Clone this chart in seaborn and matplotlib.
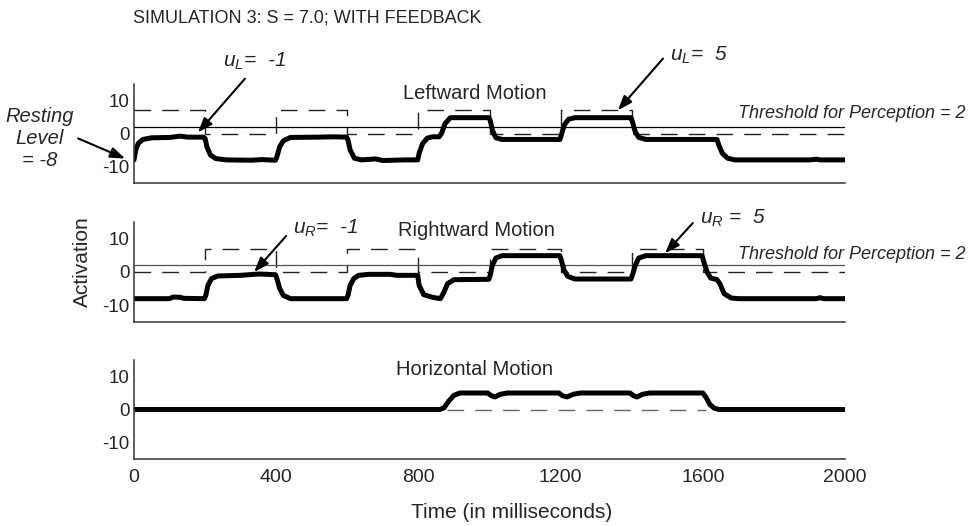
import numpy as np
import pandas as pd
import seaborn as sns
import matplotlib.pyplot as plt

# ==============================
# DATA
# ==============================
# leftward motion activation
left_t = [0, 5, 12, 25, 50, 100, 130, 150, 195, 200, 205, 215, 230, 260, 330, 360, 398,
          402, 410, 420, 440, 520, 560, 598, 602, 608, 620, 640, 680, 700, 760, 798,
          802, 812, 825, 840, 858, 865, 875, 890, 998, 1002, 1008, 1018, 1035, 1198,
          1202, 1210, 1222, 1240, 1398, 1402, 1410, 1420, 1440, 1640, 1645, 1655, 1670,
          1690, 1900, 1920, 1930, 2000]
left_v = [-8, -5, -3, -1.8, -1.3, -1.2, -0.8, -1.1, -1.1, -1.5, -4, -6.5, -7.6, -8, -8.1,
          -7.9, -8.1, -7, -4, -2.2, -1.2, -1.1, -1.0, -1.1, -2, -5, -7.5, -8, -7.7, -8.2,
          -8, -8, -6, -3, -1.4, -1.0, -1.0, 0, 3, 4.8, 4.8, 4, 1, -1.3, -1.8, -1.8,
          -0.5, 2.5, 4.3, 4.8, 4.8, 3.5, 0.5, -1.2, -1.8, -1.8, -3.5, -6, -7.5,
          -8, -8, -7.8, -8, -8]

# rightward motion activation
right_t = [0, 100, 110, 130, 140, 198, 202, 208, 218, 235, 300, 350, 398, 402, 410, 420,
           440, 598, 602, 608, 618, 632, 660, 720, 740, 798, 802, 815, 840, 862, 872,
           882, 900, 998, 1002, 1008, 1018, 1035, 1198, 1202, 1210, 1220, 1240, 1398,
           1402, 1410, 1420, 1440, 1598, 1603, 1612, 1622, 1640, 1648, 1660, 1680,
           1700, 1920, 1930, 1940, 2000]
right_v = [-8, -8, -7.5, -7.6, -7.9, -8, -7, -4, -2, -1.2, -1.0, -0.6, -0.8, -2, -5, -7,
           -8, -8, -7, -4, -2, -1.0, -0.7, -0.7, -1.0, -1.0, -4, -6.8, -7.6, -8, -6,
           -3.5, -2.3, -2.2, -1, 2, 4.2, 4.9, 4.9, 3.5, 0.5, -1.3, -2.1, -2.1,
           -1, 2, 4.2, 4.9, 4.9, 3, 0, -1.8, -2.3, -3.5, -6.5, -7.8, -8, -8, -7.7,
           -8, -8]

# horizontal motion activation
horiz_t = [0, 860, 872, 885, 900, 917, 995, 1005, 1015, 1030, 1050, 1195, 1205, 1218,
           1235, 1255, 1395, 1405, 1415, 1430, 1450, 1600, 1610, 1620, 1632, 1645, 2000]
horiz_v = [0, 0, 0.5, 2.5, 4.3, 5, 5, 4.2, 3.8, 4.6, 5, 5, 4.2, 3.8, 4.6, 5, 5, 4.2, 3.8,
           4.6, 5, 5, 3.5, 1.5, 0.4, 0, 0]

# input patterns (dashed)
input_t = [0, 200, 400, 600, 800, 1000, 1200, 1400, 1600, 2000]
input_left = [7, 0, 7, 0, 7, 0, 7, 0, 0, 0]
input_right = [0, 7, 0, 7, 0, 7, 0, 7, 0, 0]
horiz_base_t = [880, 1610]
horiz_base_v = [0, 0]

threshold = 2
x_major = [0, 400, 800, 1200, 1600, 2000]
x_minor = [200, 600, 1000, 1400, 1800]
y_ticks = [-10, 0, 10]

# ==============================
# STYLE
# ==============================
sns.set_style("white")
plt.rcParams['font.family'] = ['Liberation Sans', 'DejaVu Sans']
plt.rcParams['mathtext.fontset'] = 'custom'
plt.rcParams['mathtext.it'] = 'Liberation Sans:italic'
plt.rcParams['mathtext.rm'] = 'Liberation Sans'
plt.rcParams['axes.unicode_minus'] = False

fig = plt.figure(figsize=(9.74, 5.26), dpi=100)
W, H = 974, 526


def make_ax(top_px, bot_px):
    return fig.add_axes([134 / W, 1 - bot_px / H, 711 / W, (bot_px - top_px) / H])


ax1 = make_ax(84, 183)
ax2 = make_ax(222, 322)
ax3 = make_ax(360, 459)
dash = (12, 8)

for ax in [ax1, ax2, ax3]:
    ax.set_xlim(0, 2000)
    ax.set_ylim(-15, 15)
    for s in ["top", "right"]:
        ax.spines[s].set_visible(False)
    for s in ["left", "bottom"]:
        ax.spines[s].set_color("#333333")
        ax.spines[s].set_linewidth(1.1)
    ax.set_xticks(x_major)
    ax.set_xticks(x_minor, minor=True)
    ax.set_yticks(y_ticks)
    ax.tick_params(axis="x", which="both", direction="in", length=8, width=1,
                   color="#333333", labelsize=14, pad=7)
    ax.tick_params(axis="y", direction="in", length=5, width=1, color="#333333",
                   labelsize=13.5, pad=3)

ax1.tick_params(axis="x", labelbottom=False)
ax2.tick_params(axis="x", labelbottom=False)

# top: leftward
sns.lineplot(x=input_t, y=input_left, ax=ax1, color="#222222", lw=1.0,
             drawstyle="steps-post", dashes=False, linestyle=(0, dash), errorbar=None)
ax1.axhline(threshold, color="black", lw=0.9)
sns.lineplot(x=left_t, y=left_v, ax=ax1, color="black", lw=3.6, errorbar=None)

# middle: rightward
sns.lineplot(x=input_t, y=input_right, ax=ax2, color="#222222", lw=1.0,
             drawstyle="steps-post", dashes=False, linestyle=(0, dash), errorbar=None)
ax2.axhline(threshold, color="#555555", lw=0.9)
sns.lineplot(x=right_t, y=right_v, ax=ax2, color="black", lw=3.6, errorbar=None)

# bottom: horizontal
sns.lineplot(x=horiz_base_t, y=horiz_base_v, ax=ax3, color="#666666", lw=1.0,
             dashes=False, linestyle=(0, dash), errorbar=None)
sns.lineplot(x=horiz_t, y=horiz_v, ax=ax3, color="black", lw=3.6, errorbar=None)

for ax in [ax1, ax2, ax3]:
    ax.set_xlabel("")
    ax.set_ylabel("")

# panel labels
ax1.text(959, 12.0, "Leftward Motion", ha="center", va="center", fontsize=14.5)
ax2.text(962, 12.6, "Rightward Motion", ha="center", va="center", fontsize=14.5)
ax3.text(959, 12.0, "Horizontal Motion", ha="center", va="center", fontsize=14.5)

ax1.text(1699, 4.6, "Threshold for Perception = 2", ha="left", va="baseline",
         fontsize=13, style="italic", clip_on=False)
ax2.text(1699, 3.9, "Threshold for Perception = 2", ha="left", va="baseline",
         fontsize=13, style="italic", clip_on=False)

arrow = dict(arrowstyle="-|>,head_length=0.55,head_width=0.2", color="black", lw=1.5,
             mutation_scale=16, shrinkA=0, shrinkB=0)

# u_L annotations
ax1.text(250, 22, r"$u_L$=  -1", ha="left", va="center", fontsize=15, style="italic")
ax1.annotate("", xy=(180, 0.3), xytext=(312, 16.6), arrowprops=arrow,
             annotation_clip=False)
ax1.text(1508, 23.6, r"$u_L$=  5", ha="left", va="center", fontsize=15, style="italic")
ax1.annotate("", xy=(1361, 7), xytext=(1488, 22.7), arrowprops=arrow,
             annotation_clip=False)

# resting level
fig.text(40 / W, 1 - 138 / H, "Resting\nLevel\n= -8", ha="center", va="center",
         fontsize=14.5, style="italic", linespacing=1.2)
ax1.annotate("", xy=(-25, -7.6), xytext=(-157, -1.5), arrowprops=arrow,
             annotation_clip=False)

# u_R annotations
ax2.text(447, 13.2, r"$u_R$=  -1", ha="left", va="center", fontsize=15, style="italic")
ax2.annotate("", xy=(338, 0.0), xytext=(428, 10.8), arrowprops=arrow,
             annotation_clip=False)
ax2.text(1592, 16.2, r"$u_R$ =  5", ha="left", va="center", fontsize=15, style="italic")
ax2.annotate("", xy=(1494, 5.6), xytext=(1572, 14.7), arrowprops=arrow,
             annotation_clip=False)

# title and axis labels
fig.text(133 / W, 1 - 18 / H, "SIMULATION 3: S = 7.0; WITH FEEDBACK", ha="left",
         va="center", fontsize=13)
fig.text(82 / W, 1 - 262 / H, "Activation", ha="center", va="center", rotation=90,
         fontsize=15)
fig.text(512 / W, 1 - 513 / H, "Time (in milliseconds)", ha="center", va="center",
         fontsize=15)

fig.savefig("out.png", dpi=100)
